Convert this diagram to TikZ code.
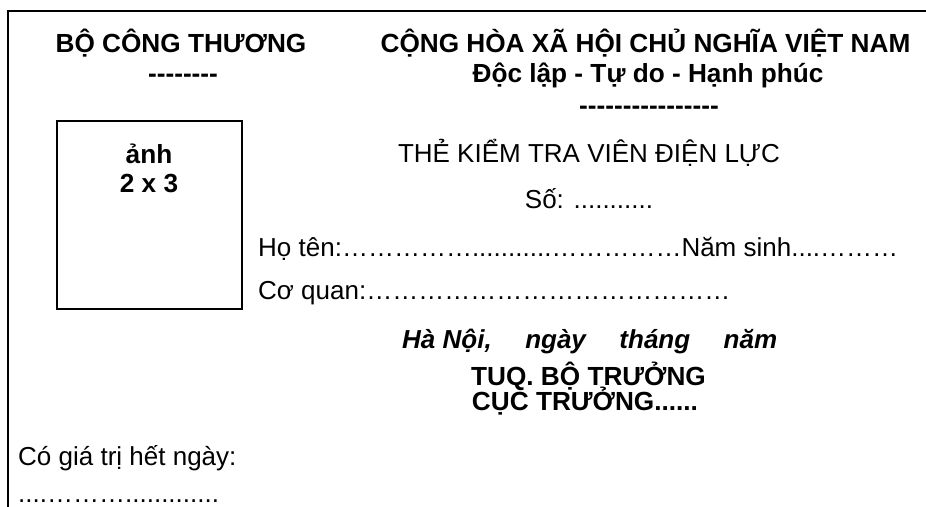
\documentclass[tikz,border=0pt]{standalone}
\usepackage{fontspec}
\setmainfont{Liberation Sans}[Ligatures=TeXOff]
\begin{document}
\begin{tikzpicture}[x=1pt,y=-1pt,
  txt/.style={inner sep=0pt,anchor=base,font=\fontsize{26}{30}\selectfont},
  txtl/.style={txt,anchor=base west},
  btxt/.style={txt,font=\fontsize{26.2}{30}\selectfont\bfseries},
  frame/.style={line width=1.5pt}]
\useasboundingbox (0,0) rectangle (926,506);
\fill[white] (0,0) rectangle (926,506);
\draw[frame] (8,530) -- (8,11) -- (950,11);
% left header
\node[btxt] (ministry) at (181,52) {BỘ CÔNG THƯƠNG};
\node[btxt] (mdash) at (183,82) {--------};
% right header
\node[btxt] (republic) at (645.5,52) {CỘNG HÒA XÃ HỘI CHỦ NGHĨA VIỆT NAM};
\node[btxt] (motto) at (648,82) {Độc lập - Tự do - Hạnh phúc};
\node[btxt] (rdash) at (649,114) {----------------};
% photo
\node[draw,frame,minimum width=185pt,minimum height=188pt,inner sep=0pt] (photo) at (149.5,215) {};
\node[btxt] (anh) at (149,163) {ảnh};
\node[btxt] (size) at (149,192) {2 x 3};
% title
\node[txt] (title) at (589,162) {THẺ KIỂM TRA VIÊN ĐIỆN LỰC};
\node[txt] (so) at (589,208) {Số: ...........};
\node[txtl] (hoten) at (258,256) {Họ tên:……………...........……………Năm sinh....………};
\node[txtl] (coquan) at (258,299) {Cơ quan:……………………………………};
% signature
\node[txtl,font=\fontsize{26}{30}\selectfont\bfseries\itshape] (place) at (402,348) {\makebox[375pt][s]{Hà Nội,\hfill ngày\hfill tháng\hfill năm}};
\node[btxt] (tuq) at (588.5,385) {TUQ. BỘ TRƯỞNG};
\node[btxt] (cuc) at (585,410) {CỤC TRƯỞNG......};
% validity
\node[txtl] (valid) at (18,465) {Có giá trị hết ngày:};
\node[txtl] (vdots) at (18,502) {....……….............};
\end{tikzpicture}
\end{document}
